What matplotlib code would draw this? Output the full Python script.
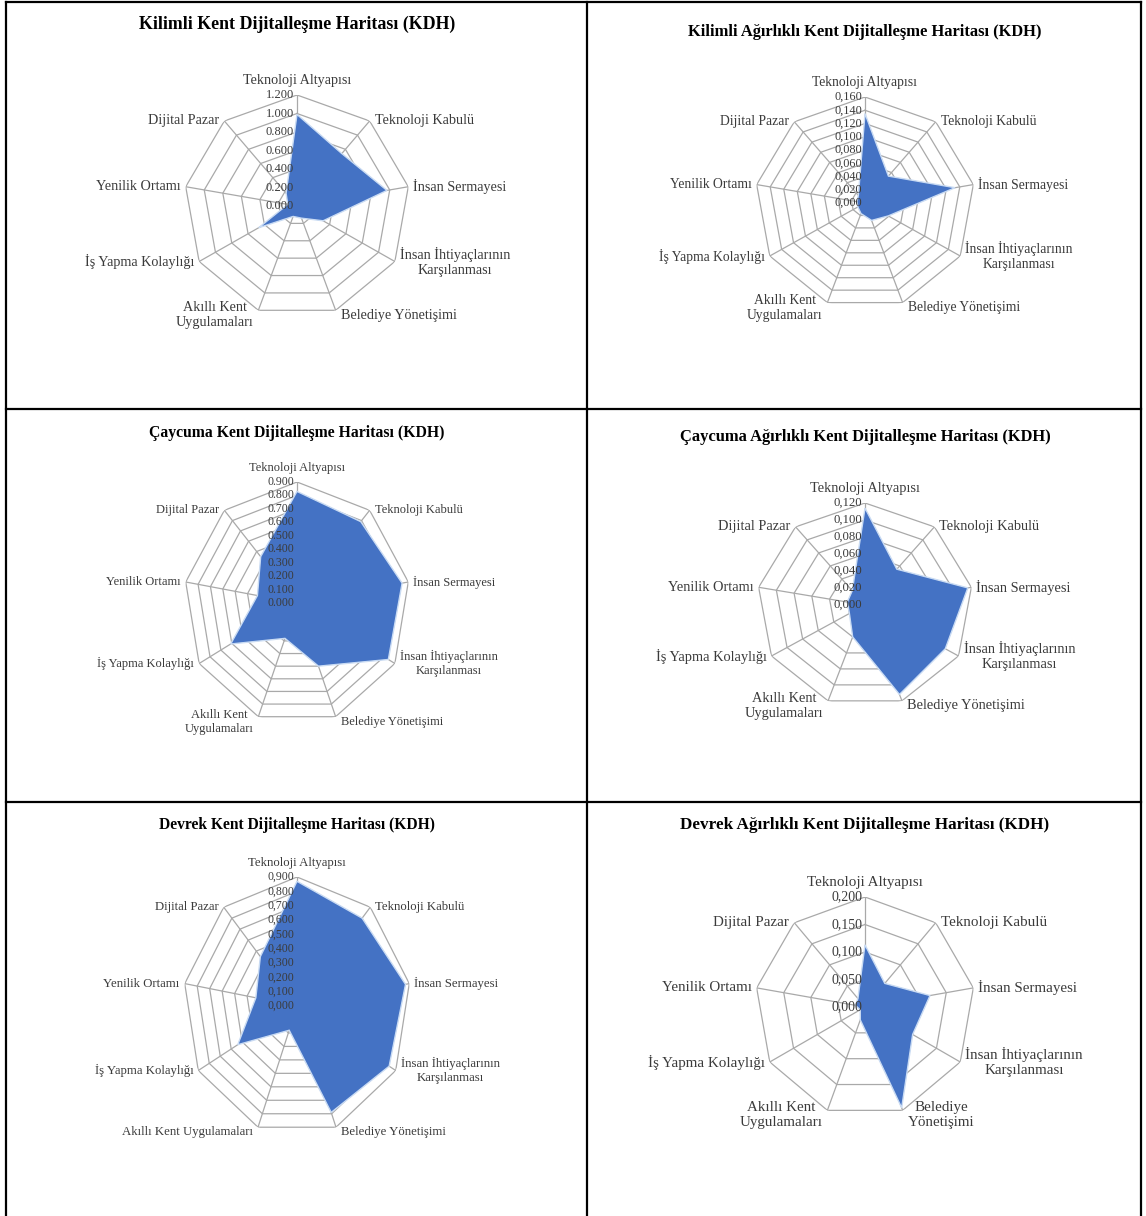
import numpy as np
import matplotlib
matplotlib.use('Agg')
import matplotlib.pyplot as plt

plt.rcParams['font.family'] = ['Liberation Serif', 'DejaVu Serif']

# categories, clockwise from the top spoke
categories = ['Teknoloji Altyapısı', 'Teknoloji Kabulü', 'İnsan Sermayesi',
              'İnsan İhtiyaçlarının\nKarşılanması', 'Belediye Yönetişimi',
              'Akıllı Kent\nUygulamaları', 'İş Yapma Kolaylığı', 'Yenilik Ortamı',
              'Dijital Pazar']

kilimli = [0.99, 0.74, 0.97, 0.32, 0.14, 0.12, 0.47, 0.10, 0.18]
kilimli_w = [0.135, 0.053, 0.133, 0.039, 0.028, 0.017, 0.012, 0.012, 0.015]
caycuma = [0.83, 0.79, 0.85, 0.84, 0.50, 0.28, 0.61, 0.32, 0.45]
caycuma_w = [0.114, 0.055, 0.116, 0.103, 0.112, 0.040, 0.020, 0.020, 0.022]
devrek = [0.87, 0.80, 0.87, 0.84, 0.79, 0.18, 0.54, 0.33, 0.45]
devrek_w = [0.113, 0.056, 0.120, 0.100, 0.195, 0.025, 0.010, 0.018, 0.020]

titles = ['Kilimli Kent Dijitalleşme Haritası (KDH)',
          'Kilimli Ağırlıklı Kent Dijitalleşme Haritası (KDH)',
          'Çaycuma Kent Dijitalleşme Haritası (KDH)',
          'Çaycuma Ağırlıklı Kent Dijitalleşme Haritası (KDH)',
          'Devrek Kent Dijitalleşme Haritası (KDH)',
          'Devrek Ağırlıklı Kent Dijitalleşme Haritası (KDH)']
series = [kilimli, kilimli_w, caycuma, caycuma_w, devrek, devrek_w]
axis_max = [1.2, 0.16, 0.9, 0.12, 0.9, 0.2]
axis_step = [0.2, 0.02, 0.1, 0.02, 0.1, 0.05]
decimal_sep = ['.', ',', '.', ',', ',', ',']

W, H = 1146, 1216
fig = plt.figure(figsize=(W / 100, H / 100), dpi=100)

# table frame
bg = fig.add_axes([0, 0, 1, 1])
bg.set_xlim(0, W)
bg.set_ylim(H, 0)
bg.axis('off')
for x in [6, 587, 1141]:
    bg.plot([x, x], [2, H], color='black', lw=1.6)
for y in [2, 409, 802]:
    bg.plot([6, 1141], [y, y], color='black', lw=1.6)

# chart placement in pixels: centre x, centre y, radius x, radius y, title y
layout = [(297, 206, 113, 111, 24),
          (865, 203, 110, 106, 32),
          (297, 603, 113, 121, 433),
          (865, 605, 108, 102, 437),
          (297, 1006, 114, 129, 825),
          (865, 1007, 110, 110, 825)]
label_size = [10.2, 9.8, 9.0, 10.4, 9.2, 10.8]
tick_size = [9.0, 8.8, 8.5, 9.2, 8.5, 10.0]
title_size = [12.9, 11.9, 11.3, 11.9, 11.2, 12.3]

grid_col = '#a9a9a9'
text_col = '#3b3b3b'
angles = np.linspace(0, 2 * np.pi, len(categories), endpoint=False)
closed = np.append(angles, angles[0])

for i, (cx, cy, rx, ry, ty) in enumerate(layout):
    rect = [(cx - rx) / W, 1 - (cy + ry) / H, 2 * rx / W, 2 * ry / H]
    ax = fig.add_axes(rect, projection='polar')
    ax.set_aspect('auto')
    ax.set_theta_zero_location('N')
    ax.set_theta_direction(-1)
    ax.grid(False)
    ax.spines['polar'].set_visible(False)
    ax.patch.set_visible(False)
    ax.set_xticks([])
    ax.set_yticks([])
    rmax = axis_max[i]
    ax.set_ylim(0, rmax)

    rings = np.arange(0, rmax + axis_step[i] / 2, axis_step[i])
    for r in rings[1:]:
        ax.plot(closed, [r] * len(closed), color=grid_col, lw=0.9, zorder=1)
    for a in angles:
        ax.plot([a, a], [0, rmax], color=grid_col, lw=0.9, zorder=1)

    vals = series[i] + series[i][:1]
    ax.fill(closed, vals, facecolor='#4472c4', edgecolor='#c9dbf3', lw=1.0, zorder=2)

    labels = list(categories)
    if i == 4:
        labels[5] = 'Akıllı Kent Uygulamaları'
    if i == 5:
        labels[4] = 'Belediye\nYönetişimi'
    for a, lab in zip(angles, labels):
        s, c = np.sin(a), np.cos(a)
        if abs(s) < 0.05:
            ha, va, off = 'center', 'bottom', (0, 8)
        else:
            ha = 'left' if s > 0 else 'right'
            va = 'center'
            dy = -5 if c < -0.9 else 0
            off = (5 * np.sign(s), dy)
        ax.annotate(lab, xy=(a, rmax), xytext=off, textcoords='offset pixels',
                    ha=ha, va=va, fontsize=label_size[i], color=text_col,
                    multialignment='center', annotation_clip=False, zorder=4)

    for r in rings:
        txt = f'{r:.3f}'.replace('.', decimal_sep[i])
        ax.annotate(txt, xy=(0, r), xytext=(-3, 0), textcoords='offset pixels',
                    ha='right', va='center', fontsize=tick_size[i], color=text_col,
                    annotation_clip=False, zorder=4)

    fig.text(cx / W, 1 - ty / H, titles[i], ha='center', va='center',
             fontsize=title_size[i], fontweight='bold', color='black')

fig.savefig('out.png', dpi=100)
